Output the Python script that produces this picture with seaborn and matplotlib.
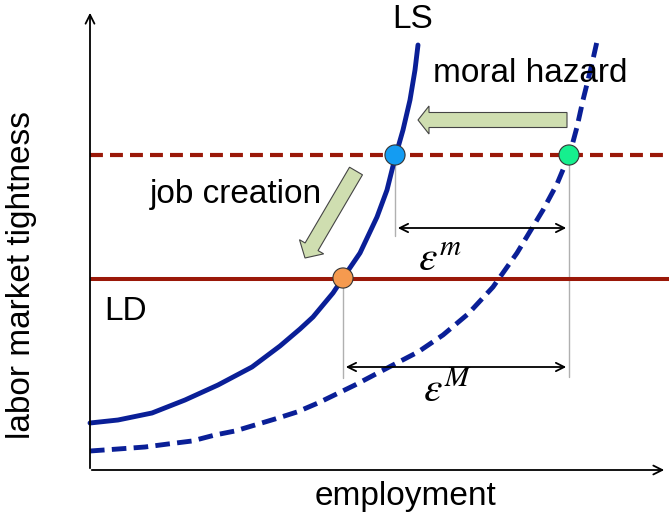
import numpy as np
import pandas as pd
import seaborn as sns
import matplotlib.pyplot as plt
from matplotlib.patches import FancyArrow

# curves (employment, tightness)
ls_x = [0, 28, 62, 95, 128, 162, 190, 210, 223, 243, 253, 270, 287, 297, 305, 313, 320, 325, 328]
ls_y = [47, 50, 57, 70, 85, 103, 124, 141, 153, 177, 192, 217, 253, 280, 312, 340, 370, 400, 425]
lsm_x = [0, 28, 55, 78, 102, 125, 145, 165, 185, 207, 228, 265, 303, 328, 353, 378, 403, 427,
         453, 467, 480, 487, 493, 501, 508]
lsm_y = [19, 21, 23, 26, 29, 35, 39, 45, 51, 58, 67, 85, 105, 118, 135, 156, 183, 217,
         260, 286, 317, 343, 370, 402, 433]

ld_low = 191
ld_high = 315

eq_names = ["LS / low LD", "LS / high LD", "LS moral / high LD"]
eq_x = [253, 305, 479]
eq_y = [192, 315, 315]
eq_colors = ["#f59a4f", "#149cf2", "#16ef8e"]

x_max = 577
y_max = 460

sns.set_style("white")
plt.rcParams['font.family'] = ['Liberation Sans', 'DejaVu Sans']
plt.rcParams['mathtext.fontset'] = 'stix'

fig = plt.figure(figsize=(6.69, 5.17), dpi=100)
ax = fig.add_axes([0, 0, 1, 1])
ax.set_xlim(-90, 579)
ax.set_ylim(-47, 470)
ax.axis("off")

blue = "#0a1f97"
red = "#9a1808"

# LD lines
ax.hlines(ld_high, 0, 579, color=red, lw=3.0, linestyles=(0, (3.1, 1.7)), zorder=2)
ax.hlines(ld_low, 0, 579, color=red, lw=2.9, zorder=2)

ls = pd.DataFrame({"x": ls_x, "y": ls_y})
lsm = pd.DataFrame({"x": lsm_x, "y": lsm_y})
sns.lineplot(data=ls, x="x", y="y", sort=False, color=blue, lw=3.5, ax=ax, zorder=3)
sns.lineplot(data=lsm, x="x", y="y", sort=False, color=blue, lw=3.5, ax=ax, zorder=3)
ax.lines[-1].set_dashes((3.0, 1.5))
for ln in ax.lines[-2:]:
    ln.set_solid_joinstyle("round")
    ln.set_dash_joinstyle("round")

# grey drop lines and epsilon brackets
ax.plot([eq_x[1], eq_x[1]], [eq_y[1], 234], color="#b0b0b0", lw=1, zorder=1)
ax.plot([eq_x[2], eq_x[2]], [eq_y[2], 93], color="#b0b0b0", lw=1, zorder=1)
ax.plot([eq_x[0], eq_x[0]], [eq_y[0], 92], color="#b0b0b0", lw=1, zorder=1)
ax.annotate("", xy=(eq_x[1], 242), xytext=(eq_x[2], 242),
            arrowprops=dict(arrowstyle="<->", color="black", lw=1.3, mutation_scale=15))
ax.annotate("", xy=(eq_x[0], 103), xytext=(eq_x[2], 103),
            arrowprops=dict(arrowstyle="<->", color="black", lw=1.3, mutation_scale=15))
ax.text(350, 210, r"$\varepsilon^m$", fontsize=30, ha="center", va="center", color="black")
ax.text(357, 79, r"$\varepsilon^M$", fontsize=30, ha="center", va="center", color="black")

# equilibrium points
pts = pd.DataFrame({"x": eq_x, "y": eq_y, "eq": eq_names})
sns.scatterplot(data=pts, x="x", y="y", hue="eq", palette=eq_colors, s=210,
                edgecolor="#333333", linewidth=0.8, legend=False, ax=ax, zorder=5)

# block arrows
green = "#cfdeb0"
ax.add_patch(FancyArrow(477, 350, -149, 0, width=15, head_width=28, head_length=11,
                        length_includes_head=True, fc=green, ec="#444444", lw=0.8, zorder=4))
ax.add_patch(FancyArrow(266, 299, -51, -87, width=15, head_width=28, head_length=13,
                        length_includes_head=True, fc=green, ec="#444444", lw=0.8, zorder=4))

# axes with arrow heads
ax.annotate("", xy=(0, y_max), xytext=(0, -1),
            arrowprops=dict(arrowstyle="->", color="black", lw=1.3, mutation_scale=16))
ax.annotate("", xy=(x_max, 0), xytext=(-1, 0),
            arrowprops=dict(arrowstyle="->", color="black", lw=1.3, mutation_scale=16))

fs = 24
kw = dict(fontsize=fs, ha="center", va="center", color="black")
ax.text(323, 450, "LS", **kw)
ax.text(440, 396, "moral hazard", **kw)
ax.text(146, 276, "job creation", **kw)
ax.text(36, 158, "LD", **kw)
ax.text(315, -27, "employment", **kw)
ax.text(-68, 195, "labor market tightness", rotation=90, **kw)

fig.savefig("out.png", dpi=100)
